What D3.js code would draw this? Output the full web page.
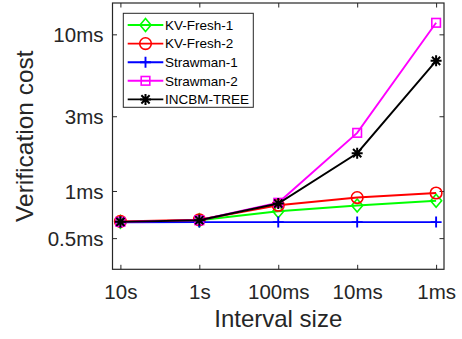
<!DOCTYPE html>
<html>
<head>
<meta charset="utf-8">
<script src="https://cdn.jsdelivr.net/npm/d3@7"></script>
<style>
  html, body { margin: 0; padding: 0; background: #fff; }
  svg { display: block; font-family: "Liberation Sans", Arial, Helvetica, sans-serif; }
</style>
</head>
<body>
<svg id="chart" width="462" height="339"></svg>
<script>
// ---- data ----
const categories = ["10s", "1s", "100ms", "10ms", "1ms"];
const seriesNames = ["KV-Fresh-1", "KV-Fresh-2", "Strawman-1", "Strawman-2", "INCBM-TREE"];
const kvFresh1   = [0.635, 0.650, 0.743, 0.808, 0.867];
const kvFresh2   = [0.640, 0.655, 0.811, 0.908, 0.971];
const strawman1  = [0.632, 0.633, 0.633, 0.633, 0.633];
const strawman2  = [0.635, 0.650, 0.841, 2.35, 11.85];
const incbmTree  = [0.635, 0.650, 0.832, 1.743, 6.77];
const yTickValues = [0.5, 1, 3, 10];
const yTickLabels = ["0.5ms", "1ms", "3ms", "10ms"];
const xLabel = "Interval size";
const yLabel = "Verification cost";

const seriesValues = [kvFresh1, kvFresh2, strawman1, strawman2, incbmTree];
const colors = ["#00ff00", "#ff0000", "#0000ff", "#ff00ff", "#000000"];
const markers = ["diamond", "circle", "plus", "square", "star"];

// ---- layout ----
const svg = d3.select("#chart");
const plot = { left: 112.5, right: 444, top: 3, bottom: 269.3 };
const axisColor = "#262626";

const x = d3.scaleLinear().domain([-0.1, 4.1]).range([plot.left, plot.right]);
const y = d3.scaleLog().domain([Math.pow(10, -0.5), Math.pow(10, 1.2)]).range([plot.bottom, plot.top]);

// axes (box with inward ticks)
const tickLen = 4.5;
const xTicks = d3.range(categories.length);

const gx = svg.append("g").attr("transform", `translate(0,${plot.bottom})`)
  .call(d3.axisBottom(x).tickValues(xTicks).tickFormat(i => categories[i]).tickSizeInner(-tickLen).tickSizeOuter(0).tickPadding(15.5));
const gxTop = svg.append("g").attr("transform", `translate(0,${plot.top})`)
  .call(d3.axisTop(x).tickValues(xTicks).tickFormat("").tickSizeInner(-tickLen).tickSizeOuter(0));
const gy = svg.append("g").attr("transform", `translate(${plot.left},0)`)
  .call(d3.axisLeft(y).tickValues(yTickValues).tickFormat((d, i) => yTickLabels[i]).tickSizeInner(-tickLen).tickSizeOuter(0).tickPadding(9));
const gyRight = svg.append("g").attr("transform", `translate(${plot.right},0)`)
  .call(d3.axisRight(y).tickValues(yTickValues).tickFormat("").tickSizeInner(-tickLen).tickSizeOuter(0));

[gx, gxTop, gy, gyRight].forEach(g => {
  g.select(".domain").remove();
  g.selectAll(".tick line").attr("stroke", axisColor).attr("stroke-width", 1);
  g.selectAll(".tick text").attr("fill", axisColor).style("font-size", "20.5px")
    .style("font-family", '"Liberation Sans", Arial, sans-serif');
});
gx.selectAll(".tick text").attr("dy", "0.71em");
gy.selectAll(".tick text").attr("dy", "0.36em");

svg.append("rect")
  .attr("x", plot.left).attr("y", plot.top)
  .attr("width", plot.right - plot.left).attr("height", plot.bottom - plot.top)
  .attr("fill", "none").attr("stroke", axisColor).attr("stroke-width", 1.2);

// axis labels
svg.append("text")
  .attr("x", (plot.left + plot.right) / 2).attr("y", 327)
  .attr("text-anchor", "middle").attr("fill", axisColor)
  .style("font-size", "24px").text(xLabel);
svg.append("text")
  .attr("transform", `translate(33,${(plot.top + plot.bottom) / 2}) rotate(-90)`)
  .attr("text-anchor", "middle").attr("fill", axisColor)
  .style("font-size", "24.5px").text(yLabel);

// marker drawing
function drawMarker(g, type, cx, cy, color) {
  const sw = 1.6;
  if (type === "diamond") {
    g.append("path").attr("d", `M${cx},${cy - 6.5}L${cx + 5.5},${cy}L${cx},${cy + 6.5}L${cx - 5.5},${cy}Z`)
      .attr("fill", "none").attr("stroke", color).attr("stroke-width", sw);
  } else if (type === "circle") {
    g.append("circle").attr("cx", cx).attr("cy", cy).attr("r", 5.8)
      .attr("fill", "none").attr("stroke", color).attr("stroke-width", sw);
  } else if (type === "plus") {
    g.append("path").attr("d", `M${cx - 5.5},${cy}H${cx + 5.5}M${cx},${cy - 5.5}V${cy + 5.5}`)
      .attr("fill", "none").attr("stroke", color).attr("stroke-width", sw + 0.3);
  } else if (type === "square") {
    g.append("rect").attr("x", cx - 4.3).attr("y", cy - 4.3).attr("width", 8.6).attr("height", 8.6)
      .attr("fill", "none").attr("stroke", color).attr("stroke-width", sw);
  } else if (type === "star") {
    const r = 5.5, d = r * 0.75;
    g.append("path").attr("d",
      `M${cx - r},${cy}H${cx + r}M${cx},${cy - r}V${cy + r}M${cx - d},${cy - d}L${cx + d},${cy + d}M${cx - d},${cy + d}L${cx + d},${cy - d}`)
      .attr("fill", "none").attr("stroke", color).attr("stroke-width", sw + 0.4);
  }
}

// series
const line = d3.line().x((d, i) => x(i)).y(d => y(d));
seriesValues.forEach((vals, s) => {
  const g = svg.append("g");
  g.append("path").datum(vals).attr("d", line)
    .attr("fill", "none").attr("stroke", colors[s]).attr("stroke-width", 1.9);
  vals.forEach((v, i) => drawMarker(g, markers[s], x(i), y(v), colors[s]));
});

// legend
const leg = { x: 123.3, y: 13.3, w: 130, h: 94, row0: 25, rowStep: 18.6 };
const lg = svg.append("g");
lg.append("rect").attr("x", leg.x).attr("y", leg.y).attr("width", leg.w).attr("height", leg.h)
  .attr("fill", "#fff").attr("stroke", axisColor).attr("stroke-width", 1);
seriesNames.forEach((name, s) => {
  const cy = leg.row0 + s * leg.rowStep;
  lg.append("line").attr("x1", 127.7).attr("x2", 163.3).attr("y1", cy).attr("y2", cy)
    .attr("stroke", colors[s]).attr("stroke-width", 1.9);
  drawMarker(lg, markers[s], 145.5, cy, colors[s]);
  lg.append("text").attr("x", 165).attr("y", cy).attr("dy", "0.36em")
    .attr("fill", "#000").style("font-size", "13.5px").text(name);
});
</script>
</body>
</html>
